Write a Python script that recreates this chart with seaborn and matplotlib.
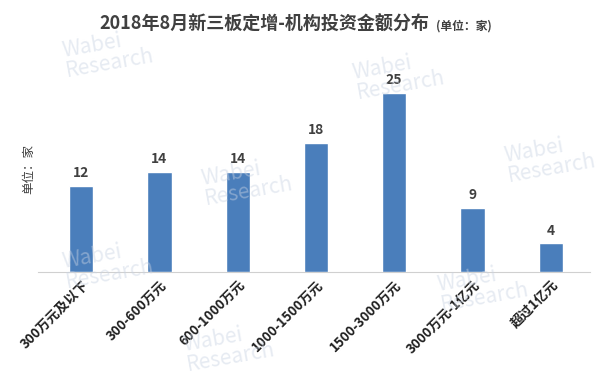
import matplotlib
matplotlib.use('Agg')
import matplotlib.pyplot as plt
import seaborn as sns
import pandas as pd

# chart data
categories = ['300万元及以下', '300-600万元', '600-1000万元', '1000-1500万元',
              '1500-3000万元', '3000万元-1亿元', '超过1亿元']
counts = [12, 14, 14, 18, 25, 9, 4]

df = pd.DataFrame({'区间': categories, '家数': counts})

sns.set_style('white')
plt.rcParams['font.family'] = ['Noto Sans CJK SC', 'DejaVu Sans']

fig = plt.figure(figsize=(6.05, 3.78), dpi=100)
ax = fig.add_axes([0.063, 0.28, 0.912, 0.57])

# faint watermarks
wm = [(0.10, 0.86), (0.58, 0.80), (0.83, 0.58), (0.33, 0.52),
      (0.10, 0.30), (0.72, 0.24), (0.30, 0.08)]
for x, y in wm:
    fig.text(x, y, 'Wabei\nResearch', fontsize=15, color='#c9d3e3', alpha=0.45,
             rotation=10, ha='left', va='center', linespacing=0.9, zorder=0)

sns.barplot(data=df, x='区间', y='家数', color='#4a7ebb', saturation=1,
            width=0.31, ax=ax, zorder=3)

ax.set_ylim(0, 30)
ax.set_xlim(-0.55, 6.5)
for i, v in enumerate(counts):
    ax.text(i, v + 0.8, str(v), ha='center', va='bottom', fontsize=10,
            fontweight='bold', color='#404040')

for s in ['top', 'right', 'left']:
    ax.spines[s].set_visible(False)
ax.spines['bottom'].set_color('#d0d0d0')
ax.set_yticks([])
ax.set_xlabel('')
ax.set_ylabel('单位：家', fontsize=9, color='#404040', labelpad=2)
ax.yaxis.set_label_coords(-0.005, 0.48)
ax.tick_params(axis='x', length=0, pad=4)
ax.set_xticks(range(len(categories)))
ax.set_xticklabels(categories, rotation=45, ha='right', rotation_mode='anchor',
                   fontsize=9.5, fontweight='bold', color='#202020')
ax.patch.set_alpha(0)

fig.text(0.165, 0.935, '2018年8月新三板定增-机构投资金额分布', fontsize=13,
         fontweight='bold', color='#404040', ha='left', va='center')
fig.text(0.72, 0.93, '(单位：家)', fontsize=8.5, fontweight='bold',
         color='#404040', ha='left', va='center')

fig.savefig('out.png', dpi=100)
